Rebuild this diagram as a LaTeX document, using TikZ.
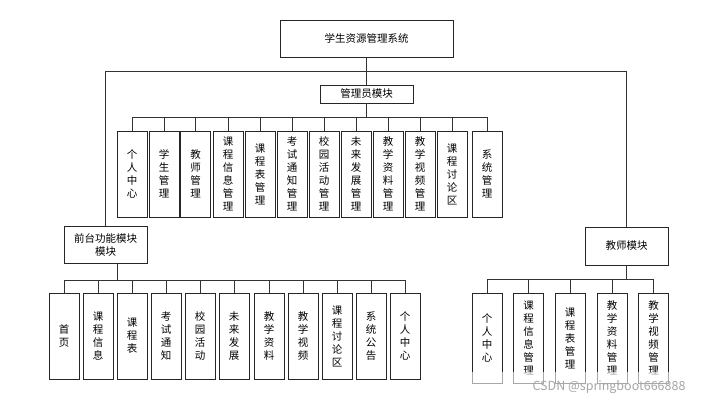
\documentclass[tikz,border=0pt]{standalone}
\usepackage{fontspec}
\newfontfamily\cjk{Noto Sans CJK SC}
\tikzset{
  box/.style={draw=black!85, line width=0.8pt, fill=white, inner sep=0pt, align=center,
    font=\cjk\fontsize{10.5}{13}\selectfont},
  vbox/.style={box, minimum width=30pt, minimum height=86pt},
  link/.style={draw=black!80, line width=0.8pt},
}
\begin{document}
\begin{tikzpicture}[x=1pt,y=-1pt]
\useasboundingbox (0,0) rectangle (703,400);
% top level
\node[box, minimum width=173pt, minimum height=37pt] (sys) at (366.5,38.5) {学生资源管理系统};
\node[box, minimum width=93pt, minimum height=18pt] (admin) at (366.5,94) {管理员模块};
\node[box, minimum width=83pt, minimum height=37pt] (front) at (105.5,244.5) {前台功能模块\\模块};
\node[box, minimum width=83pt, minimum height=38pt] (teacher) at (626.5,246) {教师模块};
\draw[link] (sys) -- (admin);
\draw[link] (sys.south) -- ++(0,14) -| (front.north);
\draw[link] (sys.south) -- ++(0,14) -| (teacher.north);

% admin module
\foreach \x/\t [count=\i] in {132/{个\\人\\中\\心}, 164/{学\\生\\管\\理}, 195.5/{教\\师\\管\\理},
    228/{课\\程\\信\\息\\管\\理}, 260/{课\\程\\表\\管\\理}, 292/{考\\试\\通\\知\\管\\理},
    324/{校\\园\\活\\动\\管\\理}, 356/{未\\来\\发\\展\\管\\理}, 388/{教\\学\\资\\料\\管\\理},
    420/{教\\学\\视\\频\\管\\理}, 452/{课\\程\\讨\\论\\区}, 487/{系\\统\\管\\理}} {
  \node[vbox] (a\i) at (\x,174) {\t};
  \draw[link] (admin.south) -- ++(0,14) -| (a\i.north);
}

% front module
\foreach \x/\t [count=\i] in {64/{首\\页}, 98/{课\\程\\信\\息}, 132/{课\\程\\表},
    166/{考\\试\\通\\知}, 200/{校\\园\\活\\动}, 234/{未\\来\\发\\展}, 269/{教\\学\\资\\料},
    303/{教\\学\\视\\频}, 337/{课\\程\\讨\\论\\区}, 371/{系\\统\\公\\告}, 405/{个\\人\\中\\心}} {
  \node[vbox] (f\i) at (\x,336) {\t};
  \draw[link] ([xshift=11.5pt]front.south) -- ++(0,17) -| (f\i.north);
}

% teacher module
\foreach \x/\t [count=\i] in {487/{个\\人\\中\\心}, 528.5/{课\\程\\信\\息\\管\\理},
    570/{课\\程\\表\\管\\理}, 612/{教\\学\\资\\料\\管\\理}, 653.5/{教\\学\\视\\频\\管\\理}} {
  \node[vbox, minimum height=90pt] (t\i) at (\x,338) {\t};
  \draw[link] (teacher.south) -- ++(0,14) -| (t\i.north);
}

% watermark
\fill[white, opacity=0.6] (466,372) rectangle (692,400);
\node[text=black!35, font=\cjk\fontsize{12.5}{14}\selectfont] (mark) at (609,387) {CSDN @springboot666888};
\end{tikzpicture}
\end{document}
